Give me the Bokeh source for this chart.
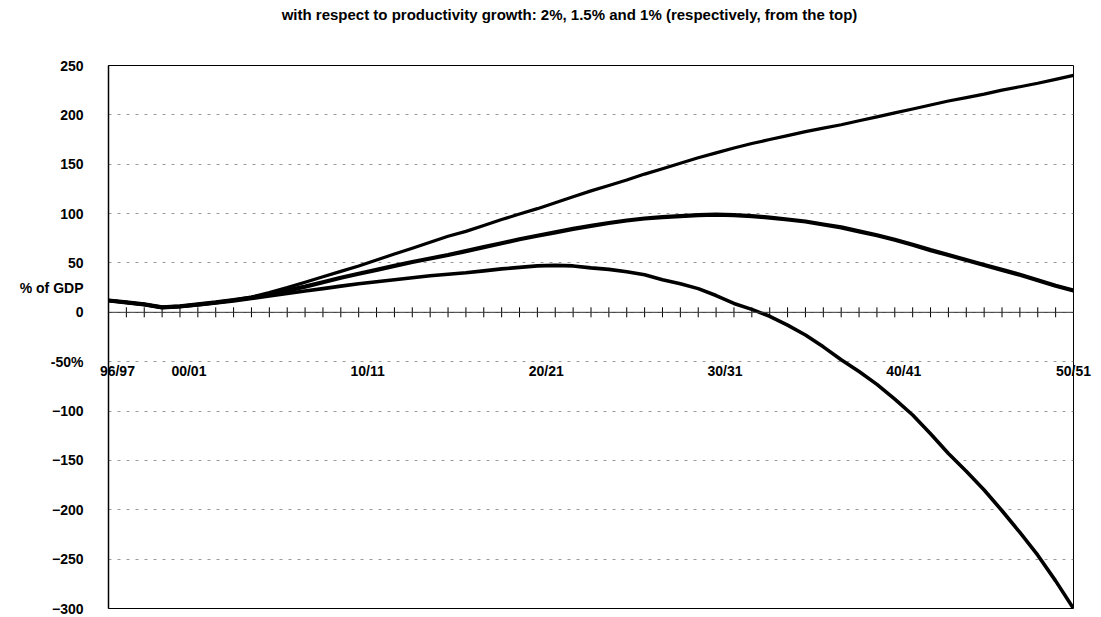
import math
from bokeh.plotting import figure
from bokeh.models import LinearAxis, FixedTicker, Range1d, Span
from bokeh.embed import file_html
from bokeh.resources import INLINE

# ---- data ----
years = list(range(1996, 2051))
growth_2_0 = [12, 10, 8, 5, 6, 8, 10, 12.5, 15.5, 20, 25, 30.5, 36, 41.5, 47,
              53, 59, 65, 71, 77, 82, 88, 94, 99.5, 105, 111, 117, 123, 128.5, 134,
              140, 145.5, 151, 156.5, 161.5, 166.5, 171, 175, 179, 183, 186.5, 190,
              194, 198, 202, 206, 210, 214, 217.5, 221, 225, 228.5, 232, 236, 240]
growth_1_5 = [12, 10, 8, 5, 6, 8, 10, 12.5, 15, 18, 22, 26, 30.5, 35, 39,
              43, 47, 51, 54.5, 58, 62, 66, 70, 74, 77.5, 81, 84.5, 87.5, 90.5, 93,
              95, 96.5, 97.5, 98.5, 99, 98.5, 97.5, 96, 94, 92, 89, 86,
              82, 78, 73.5, 68.5, 63, 58, 53, 48, 43, 38, 32.5, 27, 22]
growth_1_0 = [12, 10, 8, 5, 6, 7.5, 9.5, 11.5, 14, 16.5, 19, 21.5, 24, 26.5, 29,
              31, 33, 35, 37, 38.5, 40, 42, 44, 45.5, 47, 47.5, 47, 45, 43.5, 41,
              38, 33, 29, 24, 17, 9, 3, -4, -13, -23, -35, -48,
              -60, -73, -88, -104, -123, -143, -161, -180, -201, -223, -246, -272, -300]

label_years = [1996, 2000, 2010, 2020, 2030, 2040, 2050]
label_texts = ["96/97", "00/01", "10/11", "20/21", "30/31", "40/41", "50/51"]
y_ticks = list(range(-300, 251, 50))
y_label_at = 25
y_label_text = "% of GDP"
y_tick_overrides = {-50: "-50%", y_label_at: y_label_text}
title_text = "with respect to productivity growth: 2%, 1.5% and 1% (respectively, from the top)"

FONT = "Liberation Sans"
LABEL_SHIFT = 0.5   # category labels sit a little right of their tick

# frame geometry (pixels)
FRAME_L, FRAME_R, FRAME_T, FRAME_B = 108, 1073, 65, 608
W, H = 1101, 617
TITLE_CX = 569

p = figure(width=W, height=H,
           x_range=Range1d(years[0], years[-1]), y_range=Range1d(-300, 250),
           output_backend="svg", toolbar_location=None, x_axis_type=None,
           min_border_left=FRAME_L, min_border_right=W - FRAME_R,
           min_border_top=FRAME_T, min_border_bottom=H - FRAME_B,
           background_fill_color="white", border_fill_color="white")
p.title.text = ""

p.outline_line_color = "black"
p.outline_line_width = 1

# title, written as the single label of an axis above the frame
px_per_year = (FRAME_R - FRAME_L) / (years[-1] - years[0])
title_x = years[0] + (TITLE_CX - FRAME_L) / px_per_year
tax = LinearAxis(ticker=FixedTicker(ticks=[title_x]),
                 major_label_overrides={title_x: title_text},
                 axis_line_color=None, major_tick_in=0, major_tick_out=0,
                 minor_tick_in=0, minor_tick_out=0, major_label_standoff=43,
                 major_label_text_font=FONT, major_label_text_font_size="15px",
                 major_label_text_font_style="bold", major_label_text_color="black")
p.add_layout(tax, "above")

# y axis (the "% of GDP" caption sits among the tick labels)
ya = p.yaxis[0]
ya.ticker = FixedTicker(ticks=y_ticks + [y_label_at])
ya.major_label_overrides = y_tick_overrides
ya.major_tick_in = 0
ya.major_tick_out = 0
ya.minor_tick_in = 0
ya.minor_tick_out = 0
ya.axis_line_color = "black"
ya.axis_line_width = 1.5
ya.major_label_standoff = 25
ya.major_label_text_font = FONT
ya.major_label_text_font_size = "14px"
ya.major_label_text_font_style = "bold"
ya.major_label_text_color = "black"

p.ygrid.ticker = FixedTicker(ticks=y_ticks)
p.ygrid.grid_line_color = "#999999"
p.ygrid.grid_line_dash = "3 6"
p.ygrid.grid_line_width = 1

# category labels: bottom axis whose labels are lifted up to the -50 level
label_pos = [min(y + LABEL_SHIFT, years[-1]) for y in label_years]
xlab = LinearAxis(ticker=FixedTicker(ticks=label_pos),
                  major_label_overrides=dict(zip(label_pos, label_texts)),
                  axis_line_color=None, major_tick_in=0, major_tick_out=0,
                  minor_tick_in=0, minor_tick_out=0,
                  major_label_standoff=-246,
                  major_label_text_font=FONT, major_label_text_font_size="14px",
                  major_label_text_font_style="bold", major_label_text_color="black")
p.add_layout(xlab, "below")

# horizontal axis line through zero with a tick at every year
p.add_layout(Span(location=0, dimension="width", line_color="#333333", line_width=1))
p.scatter(years, [0] * len(years), marker="dash", angle=math.pi / 2, size=10,
          line_color="black", line_width=1)

for vals, w in ((growth_2_0, 3.2), (growth_1_5, 4.2), (growth_1_0, 3.6)):
    p.line(years, vals, line_width=w, line_color="black", line_join="round")

open("out.html", "w").write(file_html(p, INLINE))
